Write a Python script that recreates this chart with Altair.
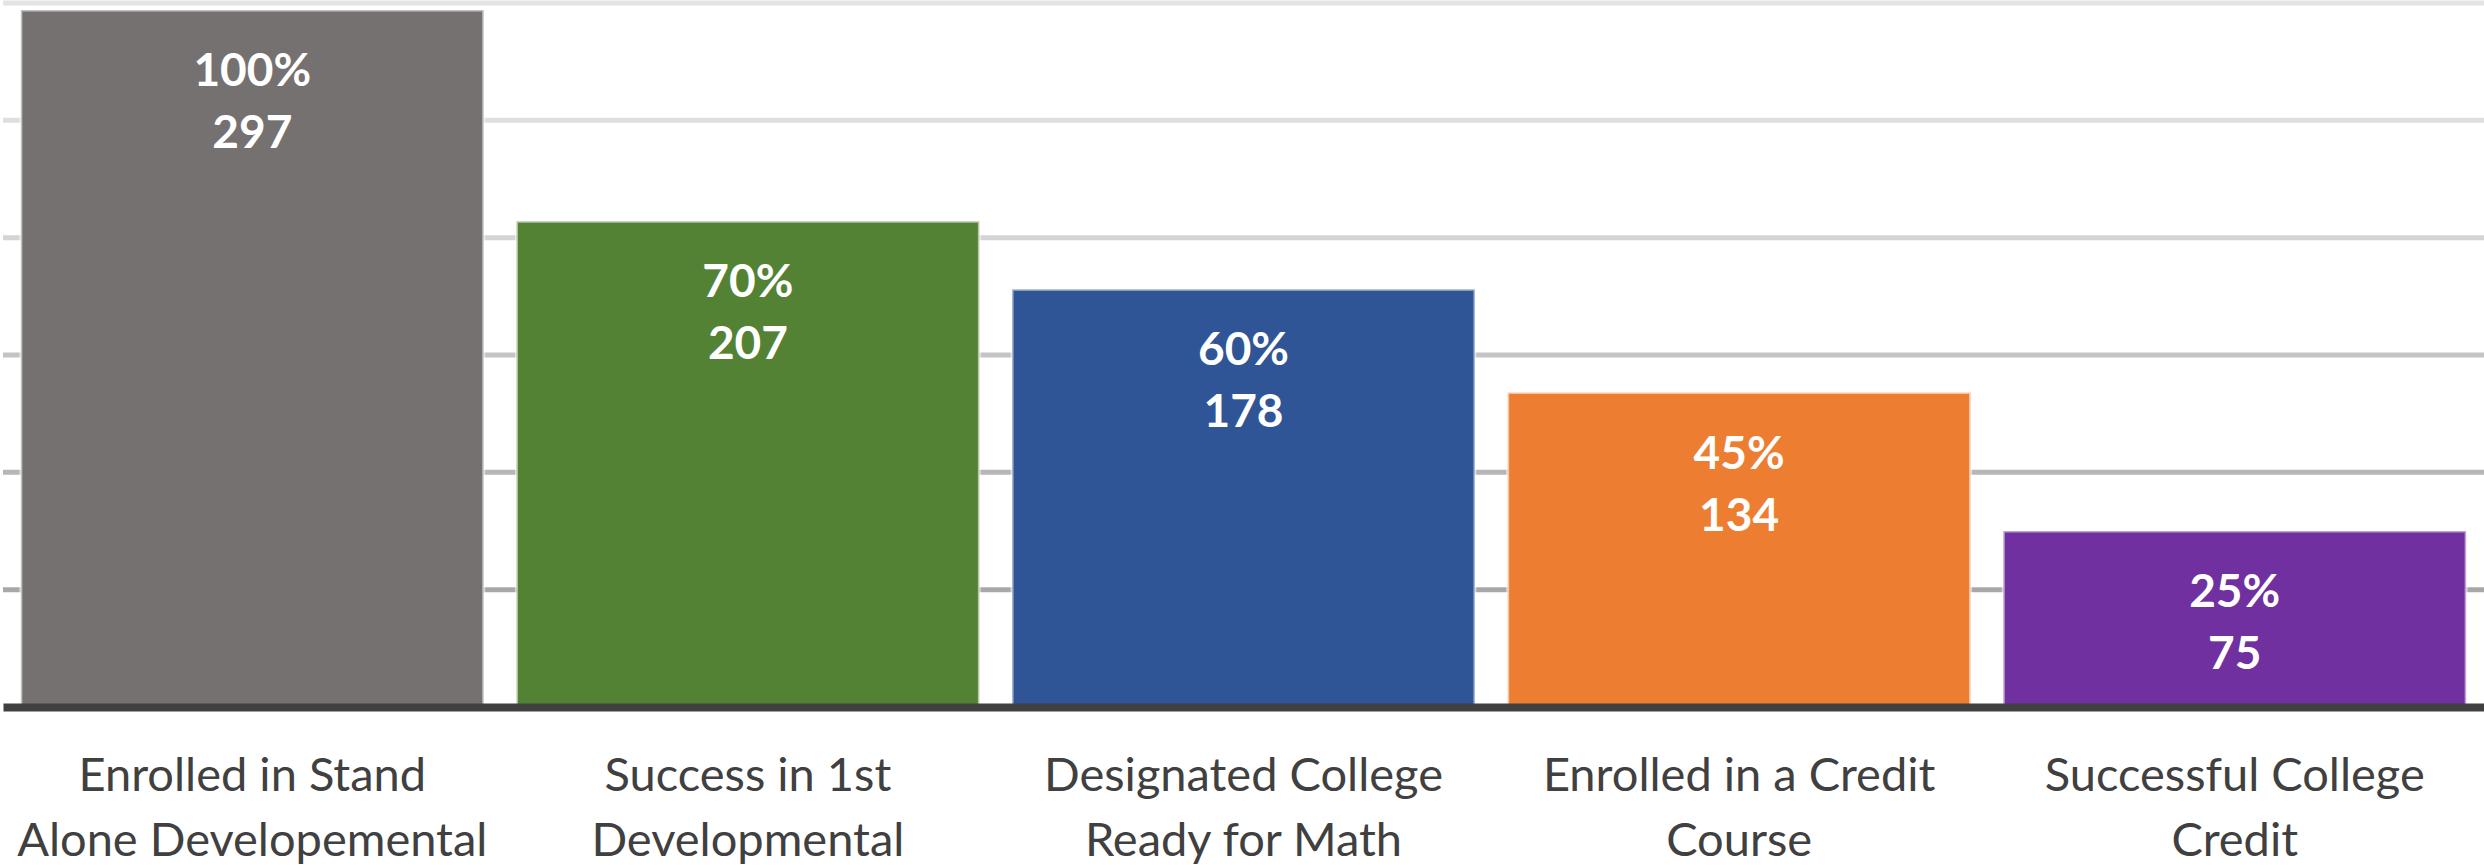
import altair as alt
import pandas as pd

# ---- data ----
categories = [
    "Enrolled in Stand\nAlone Developemental",
    "Success in 1st\nDevelopmental",
    "Designated College\nReady for Math",
    "Enrolled in a Credit\nCourse",
    "Successful College\nCredit",
]
counts = [297, 207, 178, 134, 75]
percent_labels = ["100%", "70%", "60%", "45%", "25%"]
bar_colors = ["#767171", "#548235", "#2F5597", "#ED7D31", "#7030A0"]

grid_values = [50, 100, 150, 200, 250, 300]
grid_colors = ["#a8a8a8", "#b6b6b6", "#c4c4c4", "#d4d4d4", "#dedede", "#e4e4e4"]

df = pd.DataFrame({
    "stage": categories,
    "count": counts,
    "pct": percent_labels,
    "color": bar_colors,
})
grid_df = pd.DataFrame({"v": grid_values, "c": grid_colors})

x_scale = alt.Scale(domain=categories, paddingInner=0.066, paddingOuter=0.036)
y_scale = alt.Scale(domain=[0, 300], nice=False)

grid = alt.Chart(grid_df).mark_rule(strokeWidth=5).encode(
    y=alt.Y("v:Q", scale=y_scale, axis=None),
    color=alt.Color("c:N", scale=None),
)

base = alt.Chart(df)

bars = base.mark_bar(stroke="white", strokeOpacity=0.55, strokeWidth=3).encode(
    x=alt.X(
        "stage:N",
        scale=x_scale,
        sort=categories,
        title=None,
        axis=alt.Axis(
            labelAngle=0,
            labelExpr="split(datum.label, '\\n')",
            labelFont="Lato",
            labelFontSize=47,
            labelColor="#404040",
            labelLineHeight=65,
            labelBaseline="alphabetic",
            labelPadding=83,
            labelLimit=0,
            ticks=False,
            tickSize=0,
            domain=True,
            domainColor="#404040",
            domainWidth=8,
            grid=False,
            zindex=1,
        ),
    ),
    y=alt.Y("count:Q", scale=y_scale, axis=None),
    color=alt.Color("color:N", scale=None),
)

pct_text = base.mark_text(
    font="Lato", fontWeight="bold", fontSize=46, color="white",
    baseline="alphabetic", align="center", dy=76,
).encode(
    x=alt.X("stage:N", scale=x_scale, sort=categories),
    y=alt.Y("count:Q", scale=y_scale),
    text="pct:N",
)

cnt_text = base.mark_text(
    font="Lato", fontWeight="bold", fontSize=46, color="white",
    baseline="alphabetic", align="center", dy=138,
).encode(
    x=alt.X("stage:N", scale=x_scale, sort=categories),
    y=alt.Y("count:Q", scale=y_scale),
    text="count:Q",
)

chart = alt.layer(grid, bars, pct_text, cnt_text).properties(
    width=2481,
    height=704,
    autosize=alt.AutoSizeParams(type="none"),
    padding={"left": 3, "top": 3, "right": 0, "bottom": 158},
    background="white",
).configure_view(stroke=None)

chart.save("out.html", embed_options={"renderer": "svg", "actions": False})
